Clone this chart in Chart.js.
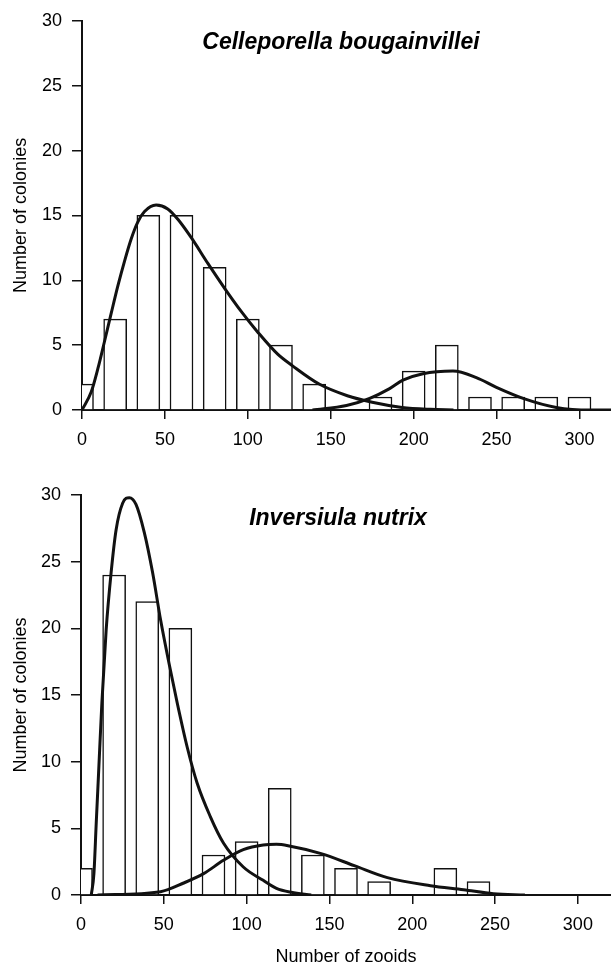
<!DOCTYPE html>
<html>
<head>
<meta charset="utf-8">
<script src="https://cdn.jsdelivr.net/npm/chart.js@4"></script>
<style>
  html, body { margin: 0; padding: 0; background: #fff; }
  #wrap { position: relative; width: 611px; height: 966px; }
  canvas { position: absolute; left: 0; }
  #topChart { top: 0; }
  #bottomChart { top: 470px; }
</style>
</head>
<body>
<div id="wrap">
  <canvas id="topChart" width="611" height="460"></canvas>
  <canvas id="bottomChart" width="611" height="496"></canvas>
</div>
<script>
const FONT = "'Liberation Sans', Arial, Helvetica, sans-serif";

// Celleporella bougainvillei - histogram (bin centres, colonies per bin)
const cellBins   = [0, 20, 40, 60, 80, 100, 120, 140, 160, 180, 200, 220, 240, 260, 280, 300];
const cellCounts = [2, 7, 15, 15, 11, 7, 5, 2, 0, 1, 3, 5, 1, 1, 1, 1];
// fitted curves
const cellFit1X = [0, 5.6, 9.6, 13.6, 17.7, 21.7, 25.7, 29.7, 33.7, 37.7, 44.7, 51.7, 57.8, 65.8, 75.9, 85.9, 96, 106, 118, 127, 143, 160, 175, 193, 210, 224];
const cellFit1Y = [0, 1.4, 3.2, 5.3, 7.5, 9.6, 11.5, 13.2, 14.5, 15.3, 15.8, 15.5, 14.7, 13.3, 11.3, 9.4, 7.6, 6.0, 4.3, 3.4, 2.0, 1.1, 0.6, 0.2, 0.05, 0];
const cellFit2X = [139, 159.5, 173.5, 185.5, 193.5, 205.6, 223.7, 237.8, 249.9, 266, 286, 306.6, 319];
const cellFit2Y = [0, 0.35, 0.9, 1.65, 2.3, 2.8, 3.0, 2.5, 1.75, 0.9, 0.2, 0, 0];

// Inversiula nutrix
const invBins   = [0, 20, 40, 60, 80, 100, 120, 140, 160, 180, 200, 220, 240];
const invCounts = [2, 24, 22, 20, 3, 4, 8, 3, 2, 1, 0, 2, 1];
const invFit1X = [6.2, 7.8, 9.2, 10.6, 12.6, 15.2, 18.2, 21.2, 25.2, 29.2, 33.2, 38.2, 43.2, 48.1, 53.1, 58.1, 64.1, 70.1, 78, 86, 98, 110, 118, 127, 139];
const invFit1Y = [0, 1.6, 5.4, 9.1, 14.4, 19.9, 24.2, 27.4, 29.4, 29.8, 29.3, 27.2, 24.2, 20.6, 17.4, 14.4, 11.1, 8.4, 5.9, 3.9, 2.1, 1.1, 0.5, 0.2, 0];
const invFit2X = [10, 48, 62, 74, 86, 98, 110, 118, 125, 145, 165, 185, 211, 231, 249, 268];
const invFit2Y = [0, 0.25, 0.9, 1.6, 2.6, 3.4, 3.75, 3.8, 3.7, 3.1, 2.2, 1.3, 0.7, 0.4, 0.1, 0];

const yTicks = [0, 30, 5]; // min, max, step
const xStep = 50;

const toPoints = (xs, ys) => xs.map((x, i) => ({ x: x, y: ys[i] }));

// species name drawn inside the plot area
const panelTitle = {
    id: 'panelTitle',
    afterDraw(chart, args, opts) {
        const ctx = chart.ctx;
        ctx.save();
        ctx.font = 'italic bold 23px ' + FONT;
        ctx.fillStyle = '#000';
        ctx.textAlign = 'center';
        ctx.textBaseline = 'middle';
        ctx.fillText(opts.text, opts.x, opts.y);
        ctx.restore();
    }
};

const fitLine = (xs, ys) => ({
    type: 'line',
    data: toPoints(xs, ys),
    borderColor: '#111',
    borderWidth: 3,
    pointRadius: 0,
    cubicInterpolationMode: 'monotone',
    fill: false,
    order: 0
});

const createChart = (id, cfg) => {
    const tickFont = { family: FONT, size: 18 };

    new Chart(document.getElementById(id), {
        type: 'bar',
        data: {
            datasets: [
                {
                    type: 'bar',
                    data: toPoints(cfg.bins, cfg.counts),
                    backgroundColor: '#fff',
                    borderColor: '#111',
                    borderWidth: 1.5,
                    borderSkipped: 'start',
                    barThickness: 23,
                    clip: 0,
                    order: 1
                },
                fitLine(cfg.fit1X, cfg.fit1Y),
                fitLine(cfg.fit2X, cfg.fit2Y)
            ]
        },
        options: {
            responsive: false,
            animation: false,
            layout: { padding: { top: cfg.top, left: 0, right: 0, bottom: 0 } },
            plugins: {
                legend: { display: false },
                tooltip: { enabled: false },
                panelTitle: { text: cfg.title, x: cfg.titleX, y: cfg.titleY }
            },
            scales: {
                x: {
                    type: 'linear',
                    min: 0,
                    max: cfg.xMax,
                    offset: false,
                    grid: { offset: false, drawOnChartArea: false, drawTicks: true, tickLength: 9, color: '#111', lineWidth: 1.5 },
                    border: { display: true, color: '#111', width: 2 },
                    ticks: { stepSize: xStep, includeBounds: false, padding: 10, color: '#000', font: tickFont, maxRotation: 0 },
                    title: {
                        display: !!cfg.xTitle,
                        text: cfg.xTitle || '',
                        color: '#000',
                        font: { family: FONT, size: 18, lineHeight: 1 },
                        padding: 0
                    },
                    afterFit: (s) => { s.height = cfg.xHeight; }
                },
                y: {
                    min: yTicks[0],
                    max: yTicks[1],
                    grid: { drawOnChartArea: false, drawTicks: true, tickLength: 10, color: '#111', lineWidth: 1.5 },
                    border: { display: true, color: '#111', width: 2 },
                    ticks: { stepSize: yTicks[2], padding: 10, color: '#000', font: tickFont },
                    title: {
                        display: true,
                        text: 'Number of colonies',
                        color: '#000',
                        font: { family: FONT, size: 18, lineHeight: 1 },
                        padding: { top: 12, bottom: 0 }
                    },
                    afterFit: (s) => { s.width = cfg.yWidth; }
                }
            }
        },
        plugins: [panelTitle]
    });
};

createChart('topChart', {
    bins: cellBins, counts: cellCounts,
    fit1X: cellFit1X, fit1Y: cellFit1Y,
    fit2X: cellFit2X, fit2Y: cellFit2Y,
    title: 'Celleporella bougainvillei', titleX: 341, titleY: 43,
    top: 19, xMax: 319, xHeight: 50, yWidth: 82
});

createChart('bottomChart', {
    bins: invBins, counts: invCounts,
    fit1X: invFit1X, fit1Y: invFit1Y,
    fit2X: invFit2X, fit2Y: invFit2Y,
    title: 'Inversiula nutrix', titleX: 338, titleY: 49,
    xTitle: 'Number of zooids',
    top: 25, xMax: 320, xHeight: 71, yWidth: 81
});
</script>
</body>
</html>
